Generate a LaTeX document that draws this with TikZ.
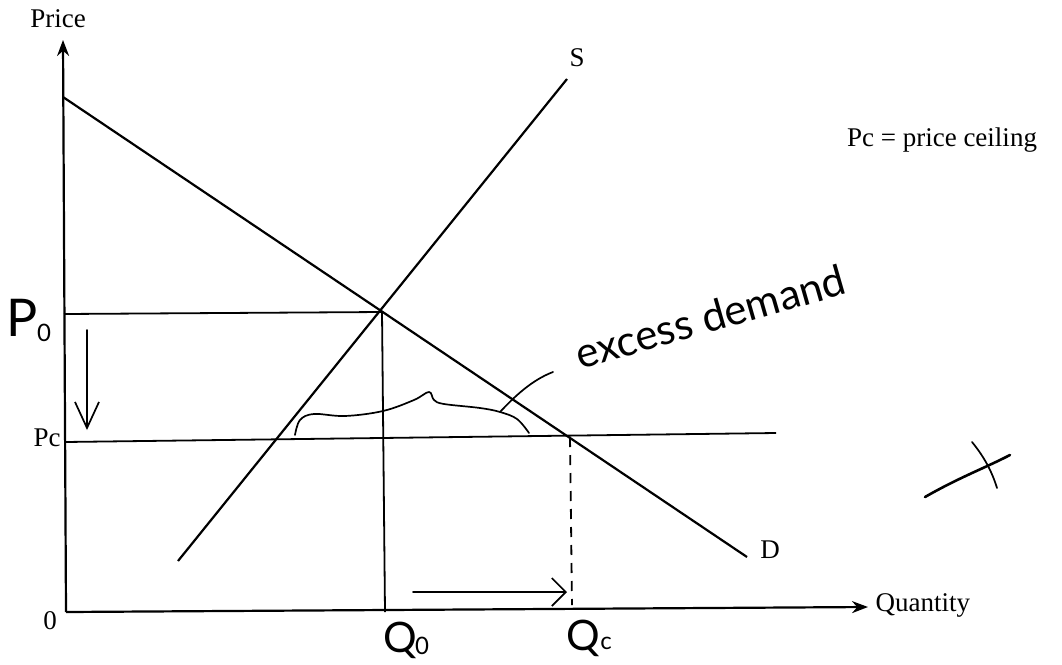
\documentclass[tikz,border=0pt]{standalone}
\usepackage{fontspec}
\setmainfont{Liberation Serif}
\newfontfamily\handfont{Lato}
\usetikzlibrary{arrows.meta,calc}

\begin{document}
\begin{tikzpicture}[x=1pt, y=-1pt,
  font=\fontsize{27}{29}\selectfont,
  axis/.style={line width=2.2pt, -{Stealth[length=16pt,width=12pt]}},
  curve/.style={line width=2.2pt},
  guide/.style={line width=1.8pt},
  hand/.style={line width=1.7pt, line cap=round, line join=round},
  handtext/.style={font=\handfont\fontsize{42}{44}\selectfont, inner sep=0pt},
  handsub/.style={font=\handfont\fontsize{24}{26}\selectfont, inner sep=0pt}
]
\useasboundingbox (0,0) rectangle (1062,664);
% axes
\coordinate (O) at (66,612);
\coordinate (ytop) at (63,40);
\coordinate (xend) at (868,607);
\draw[axis] (O) -- (ytop);
\draw[axis] (O) -- (xend);
\node (price) at (58,19) {Price};
\node (zero) at (50,621) {0};
\node[anchor=west] (quantity) at (872,605) {Quantity};
% supply and demand
\coordinate (Dtop) at (63,97);
\coordinate (Dend) at (747,557);
\coordinate (Sbot) at (178,561);
\coordinate (Stop) at (567,79);
\coordinate (E) at (382,312);
\coordinate (C) at (570,437);
\draw[curve] (Dtop) -- (Dend);
\draw[curve] (Sbot) -- (Stop);
\node (S) at (577,58) {S};
\node (D) at (770,550) {D};
% price lines
\coordinate (P0) at (64,314);
\coordinate (Pcl) at (65,442);
\coordinate (Pcr) at (776,433);
\coordinate (Q0) at (385,612);
\coordinate (Qc) at (572,605);
\draw[guide] (P0) -- (E);
\draw[guide] (E) -- (Q0);
\draw[guide] (Pcl) -- (Pcr);
\draw[guide, dash pattern=on 10pt off 8pt] (C) -- (Qc);
\node (Pc) at (47,438) {Pc};
\node (note) at (942,140) {Pc = price ceiling};
% handwritten marks
\node[handtext, font=\handfont\fontsize{52}{54}\selectfont] (P0lab) at (22,318) {P};
\node[handsub] (P0sub) at (44,333) {0};
\node[handtext] (Q0lab) at (400,640) {Q};
\node[handsub] (Q0sub) at (422,646) {0};
\node[handtext] (Qclab) at (583,638) {Q};
\node[handsub] (Qcsub) at (606,643) {c};
\coordinate (dnA) at (87,330);
\coordinate (dnB) at (87,430);
\coordinate (rtA) at (413,592);
\coordinate (rtB) at (567,592);
\draw[hand, -{Straight Barb[length=26pt,width=24pt]}] (dnA) -- (dnB);
\draw[hand, -{Straight Barb[length=14pt,width=28pt]}] (rtA) -- (rtB);
\draw[hand] plot[smooth, tension=0.6] coordinates {(295,435) (300,420) (314,414) (345,416) (383,411) (414,400) (429,392) (434,400) (444,404) (480,408) (500,412) (517,419) (529,433)};
\coordinate (brace) at (500,412);
\coordinate (ptr) at (553,372);
\draw[hand] (brace) .. controls (515,396) and (532,380) .. (ptr);
\node[handtext, rotate=16, anchor=base west] (excess) at (580,370) {excess demand};
\coordinate (xa) at (925,497);
\coordinate (xb) at (1010,455);
\coordinate (xc) at (972,442);
\coordinate (xd) at (997,488);
\draw[line width=2.6pt, line cap=round] (xa) .. controls (960,477) and (985,468) .. (xb);
\draw[hand] (xc) .. controls (985,458) and (992,472) .. (xd);
\end{tikzpicture}
\end{document}
